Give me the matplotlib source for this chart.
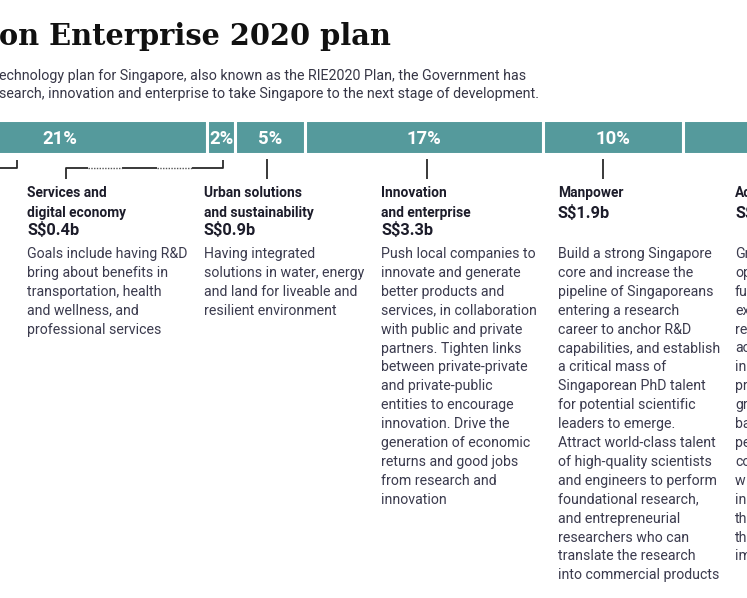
import matplotlib
matplotlib.use("Agg")
import matplotlib.pyplot as plt
import numpy as np

# ---------------- data ----------------
pct_values = [21, 2, 5, 17, 10, 15]
pct_labels = ["21%", "2%", "5%", "17%", "10%", "15%"]
categories = ["Health and biomedical sciences", "Services and digital economy",
              "Urban solutions and sustainability", "Innovation and enterprise",
              "Manpower", "Academic research"]
amounts = ["S$4b", "S$0.4b", "S$0.9b", "S$3.3b", "S$1.9b", "S$2.8b"]

title_text = "on Enterprise 2020 plan"
subtitle_lines = [
    "echnology plan for Singapore, also known as the RIE2020 Plan, the Government has",
    "search, innovation and enterprise to take Singapore to the next stage of development.",
]

columns = [
    {"heading": ["Services and", "digital economy"], "amount": "S\\$0.4b",
     "body": ["Goals include having R&D", "bring about benefits in",
              "transportation, health", "and wellness, and", "professional services"]},
    {"heading": ["Urban solutions", "and sustainability"], "amount": "S\\$0.9b",
     "body": ["Having integrated", "solutions in water, energy",
              "and land for liveable and", "resilient environment"]},
    {"heading": ["Innovation", "and enterprise"], "amount": "S\\$3.3b",
     "body": ["Push local companies to", "innovate and generate", "better products and",
              "services, in collaboration", "with public and private",
              "partners. Tighten links", "between private-private",
              "and private-public", "entities to encourage", "innovation. Drive the",
              "generation of economic", "returns and good jobs", "from research and",
              "innovation"]},
    {"heading": ["Manpower"], "amount": "S\\$1.9b",
     "body": ["Build a strong Singapore", "core and increase the",
              "pipeline of Singaporeans", "entering a research", "career to anchor R&D",
              "capabilities, and establish", "a critical mass of",
              "Singaporean PhD talent", "for potential scientific", "leaders to emerge.",
              "Attract world-class talent", "of high-quality scientists",
              "and engineers to perform", "foundational research,",
              "and entrepreneurial", "researchers who can", "translate the research",
              "into commercial products"]},
    {"heading": ["Ac"], "amount": "S\\$",
     "body": ["Gr", "op", "fu", "ex", "re", "ac", "in", "pr", "gr", "ba", "pe", "co",
              "w", "in", "th", "th", "im"]},
]

# ---------------- style / layout ----------------
W, H = 747, 598
TEAL = "#559a9c"
HEAD = "#1c1c2a"
BODY = "#3b3b4e"
LINE = "#2a2a2a"
SANS = ["Roboto", "DejaVu Sans"]

fig = plt.figure(figsize=(W / 100, H / 100), dpi=100)
fig.patch.set_facecolor("white")

ov = fig.add_axes([0, 0, 1, 1])
ov.set_xlim(0, W)
ov.set_ylim(H, 0)
ov.axis("off")

# title & subtitle
ov.text(-1, 45, title_text, family="DejaVu Serif", weight="bold", fontsize=20.8,
        color="#111111", va="baseline", ha="left")
for i, line in enumerate(subtitle_lines):
    ov.text(-1, 80 + 18 * i, line, family=SANS, fontsize=10.3, color="#363646",
            va="baseline", ha="left")

# stacked bar
bar_top, bar_bot = 120, 153.5
bx = fig.add_axes([0, 1 - bar_bot / H, 1, (bar_bot - bar_top) / H])
px_per_pct = 14.0
xmin = 87 / px_per_pct
bx.set_xlim(xmin, xmin + W / px_per_pct)
bx.set_ylim(-0.5, 0.5)
bx.axis("off")
lefts = np.concatenate([[0], np.cumsum(pct_values)[:-1]])
bx.barh(0, pct_values, left=lefts, height=1.0, color=TEAL, edgecolor="white",
        linewidth=2.2)
x_lo, x_hi = bx.get_xlim()
for l, v, lab in zip(lefts, pct_values, pct_labels):
    c = l + v / 2
    if x_lo < c < x_hi - 1.5:
        bx.text(c, -0.22, lab, ha="center", va="baseline", color="white",
                family=SANS, weight="bold", fontsize=13.3)

# connector lines
lw = 1.3
ov.plot([0, 17, 17], [167.5, 167.5, 160], color=LINE, lw=lw, solid_capstyle="butt")
ov.plot([66, 66, 88], [179, 168, 168], color=LINE, lw=lw, solid_capstyle="butt")
ov.plot([122, 157], [168, 168], color=LINE, lw=lw, solid_capstyle="butt")
ov.plot([192, 223, 223], [168, 168, 160], color=LINE, lw=lw, solid_capstyle="butt")
ov.plot([88, 122], [168, 168], color="#555555", lw=1.0, ls=(0, (1, 1)))
ov.plot([157, 192], [168, 168], color="#555555", lw=1.0, ls=(0, (1, 1)))
for x in [267, 427, 603]:
    ov.plot([x, x], [159, 179], color=LINE, lw=lw, solid_capstyle="butt")

# text columns
col_x = [27, 204, 381, 558, 735]
head_base = [197, 216.5]
for cx, col in zip(col_x, columns):
    for j, h in enumerate(col["heading"]):
        ov.text(cx, head_base[j], h, family=SANS, weight="bold", fontsize=9.9,
                color=HEAD, va="baseline", ha="left")
    amt_y = 235 if len(col["heading"]) == 2 else 217.5
    ov.text(cx, amt_y, col["amount"], family=SANS, weight="bold", fontsize=11.8,
            color=HEAD, va="baseline", ha="left")
    for k, line in enumerate(col["body"]):
        ov.text(cx, 258 + 18.9 * k, line, family=SANS, fontsize=10.2, color=BODY,
                va="baseline", ha="left")

fig.savefig("out.png", dpi=100, facecolor="white")
